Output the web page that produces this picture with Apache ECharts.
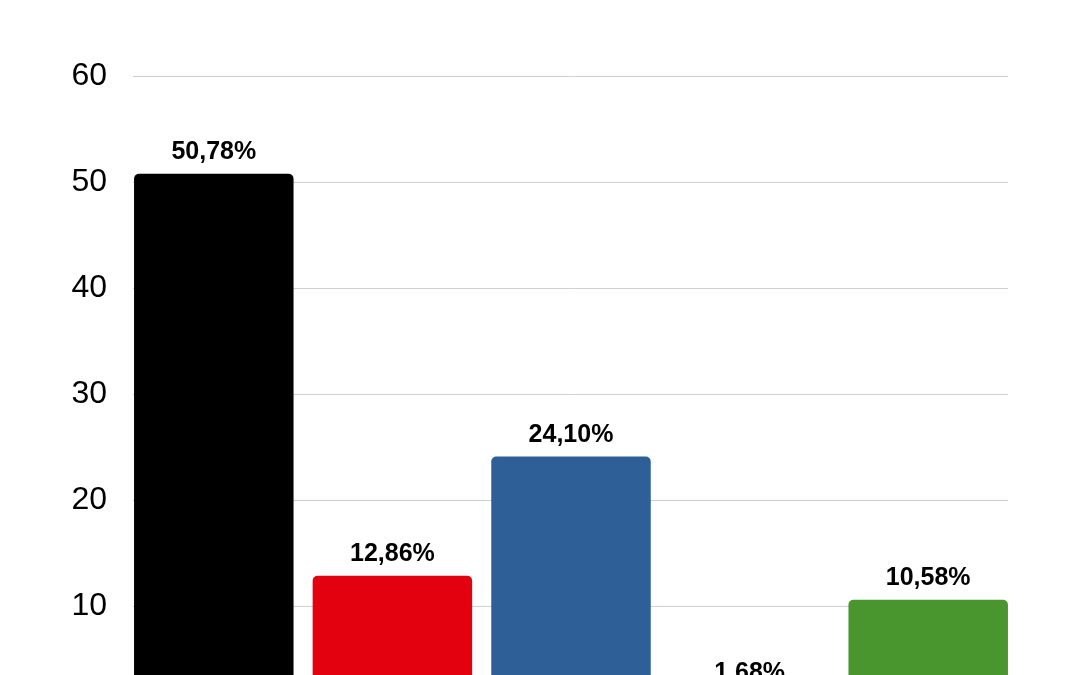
<!DOCTYPE html>
<html>
<head>
<meta charset="utf-8">
<script src="https://cdn.jsdelivr.net/npm/echarts@6/dist/echarts.min.js"></script>
<style>html,body{margin:0;padding:0;background:#fff}#c{width:1080px;height:675px}</style>
</head>
<body>
<div id="c"></div>
<script>
const categories = ["Partei 1", "Partei 2", "Partei 3", "Partei 4", "Partei 5"];
const values = [50.78, 12.86, 24.10, 1.68, 10.58];
const valueLabels = ["50,78%", "12,86%", "24,10%", "1,68%", "10,58%"];
const barColors = ["#000000", "#e3000f", "#2e5f96", "#f5d000", "#4a962e"];
const yTicks = [0, 10, 20, 30, 40, 50, 60];

const chart = echarts.init(document.getElementById('c'), null, {renderer: 'canvas'});
const yMin = yTicks[0], yMax = yTicks[yTicks.length - 1], yStep = yTicks[1] - yTicks[0];
chart.setOption({
  animation: false,
  backgroundColor: '#ffffff',
  grid: [
    {left: 133, width: 875, top: 76, height: 636, outerBoundsMode: 'none', containLabel: false},
    {left: 124.5, width: 893, top: 76, height: 636, outerBoundsMode: 'none', containLabel: false}
  ],
  xAxis: [
    {type: 'category', gridIndex: 0, data: categories, show: false},
    {type: 'category', gridIndex: 1, data: categories,
     axisLine: {show: false}, axisTick: {show: false}, axisLabel: {show: false}}
  ],
  yAxis: [
    {type: 'value', gridIndex: 0, min: yMin, max: yMax, interval: yStep,
     axisLine: {show: false}, axisTick: {show: false},
     axisLabel: {fontFamily: 'Liberation Sans, Arial, sans-serif', fontSize: 32, color: '#000', margin: 26},
     splitLine: {lineStyle: {color: '#cfcfcf', width: 1}}},
    {type: 'value', gridIndex: 1, min: yMin, max: yMax, interval: yStep, show: false,
     splitLine: {show: false}}
  ],
  series: [{
    type: 'bar',
    xAxisIndex: 1, yAxisIndex: 1,
    barWidth: 159.5,
    data: values.map((v, i) => ({value: v, itemStyle: {color: barColors[i], borderRadius: [5, 5, 0, 0]}})),
    label: {
      show: true, position: 'top', distance: 9,
      formatter: p => valueLabels[p.dataIndex],
      fontFamily: 'Liberation Sans, Arial, sans-serif', fontWeight: 'bold', fontSize: 25, color: '#000'
    }
  }]
});
</script>
</body>
</html>
